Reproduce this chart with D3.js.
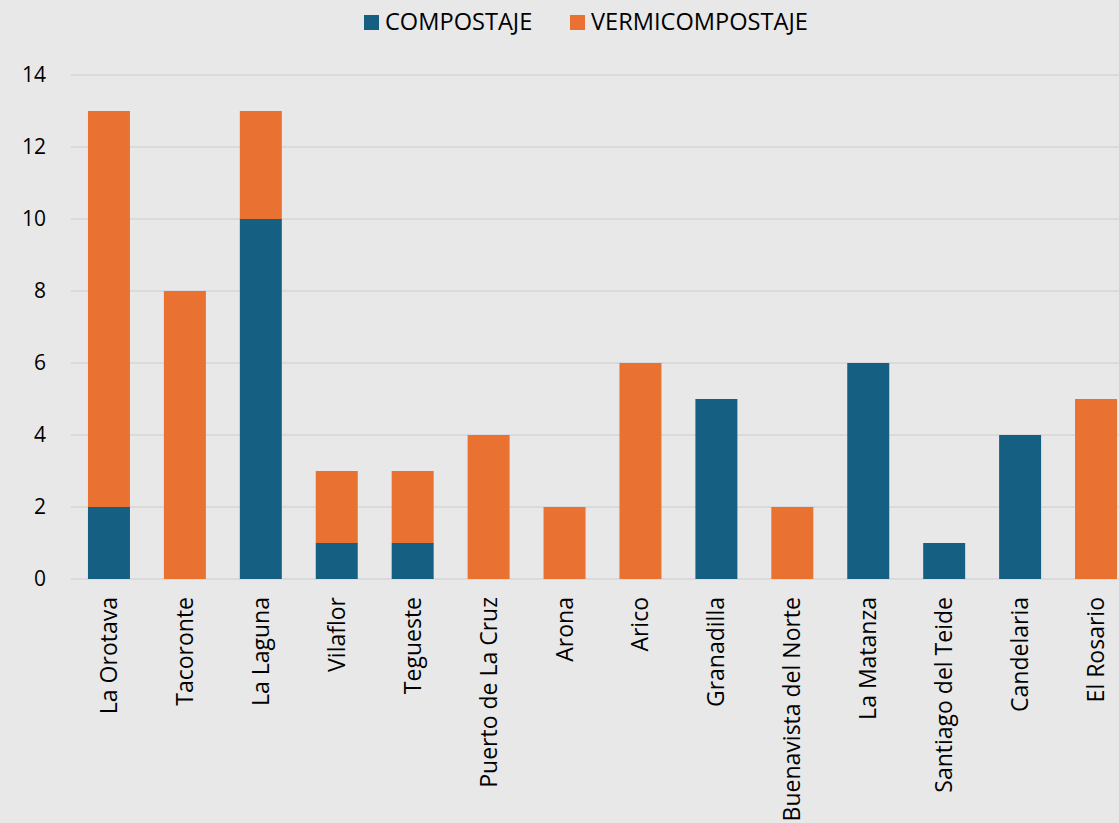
<!DOCTYPE html>
<meta charset="utf-8">
<script src="https://d3js.org/d3.v7.min.js"></script>
<style>
  body { margin: 0; background: #e8e8e8; }
  svg { display: block; font-family: "Open Sans", sans-serif; }
</style>
<svg id="chart"></svg>
<script>
// data
let municipios = ["La Orotava", "Tacoronte", "La Laguna", "Vilaflor", "Tegueste",
  "Puerto de La Cruz", "Arona", "Arico", "Granadilla", "Buenavista del Norte",
  "La Matanza", "Santiago del Teide", "Candelaria", "El Rosario"];
let compostaje     = [2, 0, 10, 1, 1, 0, 0, 0, 5, 0, 6, 1, 4, 0];
let vermicompostaje = [11, 8, 3, 2, 2, 4, 2, 6, 0, 2, 0, 0, 0, 5];
let series_names = ["COMPOSTAJE", "VERMICOMPOSTAJE"];
let series_colors = ["#156082", "#e97132"];
let y_ticks = [0, 2, 4, 6, 8, 10, 12, 14];

let width = 1119, height = 823;
let svg = d3.select("#chart").attr("width", width).attr("height", height);

svg.append("rect").attr("width", width).attr("height", height).attr("fill", "#e8e8e8");

// scales
let x = d3.scaleBand().domain(municipios).range([71, 1134]).paddingInner(0.447).paddingOuter(0.2235);
let y = d3.scaleLinear().domain([0, 14]).range([579, 75]);

// gridlines
svg.append("g")
  .selectAll("line")
  .data(y_ticks)
  .enter().append("line")
    .attr("x1", 71).attr("x2", width)
    .attr("y1", d => y(d)).attr("y2", d => y(d))
    .attr("stroke", "#d6d6d6")
    .attr("stroke-width", 1.5);

// y axis labels
let y_axis = svg.append("g")
  .attr("transform", "translate(46,0)")
  .call(d3.axisLeft(y).tickValues(y_ticks).tickSize(0).tickPadding(0));
y_axis.select(".domain").remove();
y_axis.selectAll("text")
  .attr("font-family", "Open Sans")
  .attr("font-size", 21)
  .attr("fill", "#000");

// stacked bars
let rows = municipios.map((m, i) => ({ name: m, COMPOSTAJE: compostaje[i], VERMICOMPOSTAJE: vermicompostaje[i] }));
let stacked = d3.stack().keys(series_names)(rows);

svg.append("g")
  .selectAll("g")
  .data(stacked)
  .enter().append("g")
    .attr("fill", (d, i) => series_colors[i])
  .selectAll("rect")
  .data(d => d.filter(p => p[1] - p[0] > 0))
  .enter().append("rect")
    .attr("x", d => x(d.data.name))
    .attr("width", x.bandwidth())
    .attr("y", d => y(d[1]))
    .attr("height", d => y(d[0]) - y(d[1]));

// x axis labels, rotated
svg.append("g")
  .selectAll("text")
  .data(municipios)
  .enter().append("text")
    .attr("transform", d => "translate(" + (x(d) + x.bandwidth() / 2 + 8) + ",597) rotate(-90)")
    .attr("text-anchor", "end")
    .attr("font-size", 23)
    .attr("fill", "#000")
    .text(d => d);

// legend
let legend_x = [364, 570];
let legend = svg.append("g")
  .selectAll("g")
  .data(series_names)
  .enter().append("g")
    .attr("transform", (d, i) => "translate(" + legend_x[i] + ",0)");
legend.append("rect")
  .attr("x", 0).attr("y", 15)
  .attr("width", 15).attr("height", 15)
  .attr("fill", (d, i) => series_colors[i]);
legend.append("text")
  .attr("x", 21).attr("y", 30)
  .attr("font-size", 23.6)
  .attr("fill", "#000")
  .text(d => d);
</script>
